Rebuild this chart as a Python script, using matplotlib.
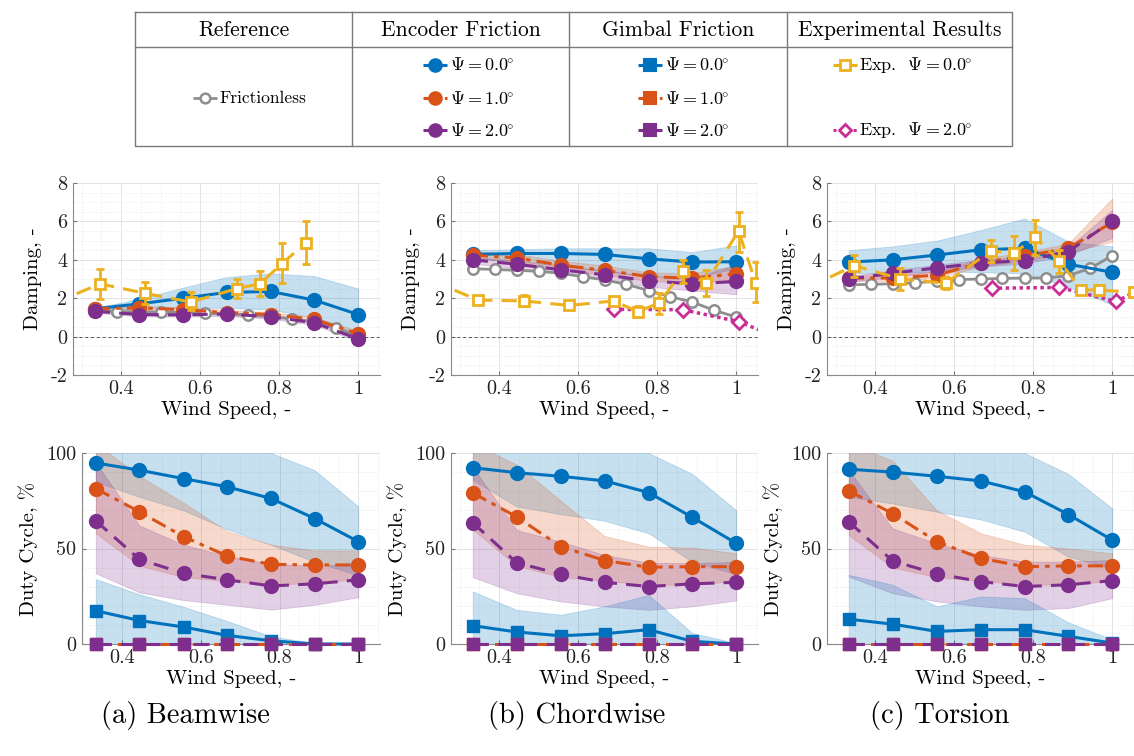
import matplotlib
matplotlib.use("Agg")
import matplotlib.pyplot as plt
from matplotlib.ticker import MultipleLocator, FixedLocator

plt.rcParams['font.family'] = ['cmr10', 'DejaVu Serif']
plt.rcParams['mathtext.fontset'] = 'cm'
plt.rcParams['axes.unicode_minus'] = False

# ---------------- colours ----------------
BLUE = '#0072BD'
ORANGE = '#D95319'
YELLOW = '#EDB120'
PURPLE = '#7E2F8E'
GRAY = '#8E8E8E'
MAGENTA = '#C72F96'

# ---------------- data ----------------
wind_sim = [0.333, 0.444, 0.556, 0.667, 0.778, 0.889, 1.0]
wind_fric = [0.333, 0.389, 0.444, 0.5, 0.556, 0.611, 0.667, 0.722, 0.778, 0.833, 0.889, 0.944, 1.0]

# --- Beamwise damping ---
beam_fric = [1.35, 1.3, 1.3, 1.28, 1.25, 1.22, 1.18, 1.12, 1.05, 0.92, 0.75, 0.45, 0.05]
beam_enc0 = [1.45, 1.7, 2.0, 2.3, 2.35, 1.9, 1.15]
beam_enc0_lo = [1.35, 1.45, 1.5, 1.5, 1.4, 1.0, 0.15]
beam_enc0_hi = [1.5, 1.95, 2.55, 3.1, 3.3, 3.15, 2.5]
beam_enc1 = [1.45, 1.5, 1.4, 1.25, 1.15, 0.9, 0.15]
beam_enc1_lo = [1.35, 1.35, 1.25, 1.12, 1.02, 0.75, 0.0]
beam_enc1_hi = [1.55, 1.62, 1.52, 1.38, 1.28, 1.02, 0.3]
beam_enc2 = [1.32, 1.15, 1.13, 1.18, 1.03, 0.72, -0.12]
beam_enc2_lo = [1.25, 1.05, 1.05, 1.08, 0.93, 0.6, -0.25]
beam_enc2_hi = [1.4, 1.25, 1.22, 1.28, 1.13, 0.85, 0.0]
beam_exp0_x = [0.23, 0.347, 0.461, 0.576, 0.693, 0.751, 0.807, 0.868]
beam_exp0 = [1.75, 2.75, 2.25, 1.8, 2.5, 2.75, 3.8, 4.9]
beam_exp0_lo = [1.5, 1.95, 1.7, 1.4, 2.0, 2.1, 2.8, 3.8]
beam_exp0_hi = [2.0, 3.5, 2.85, 2.3, 3.0, 3.4, 4.85, 6.0]

# --- Chordwise damping ---
chord_fric = [3.53, 3.5, 3.45, 3.4, 3.3, 3.12, 2.95, 2.72, 2.4, 2.08, 1.8, 1.37, 1.02]
chord_enc0 = [4.28, 4.33, 4.33, 4.28, 4.05, 3.88, 3.9]
chord_enc0_lo = [4.05, 3.95, 3.7, 3.4, 3.15, 3.05, 3.55]
chord_enc0_hi = [4.5, 4.55, 4.6, 4.6, 4.6, 4.4, 4.75]
chord_enc1 = [4.24, 4.1, 3.72, 3.45, 3.13, 3.03, 3.28]
chord_enc1_lo = [4.05, 3.9, 3.5, 3.2, 2.9, 2.8, 2.95]
chord_enc1_hi = [4.45, 4.3, 3.95, 3.7, 3.35, 3.3, 3.7]
chord_enc2 = [4.0, 3.77, 3.48, 3.22, 2.9, 2.75, 2.87]
chord_enc2_lo = [3.8, 3.55, 3.28, 2.95, 2.6, 2.4, 2.2]
chord_enc2_hi = [4.15, 3.95, 3.68, 3.45, 3.15, 3.05, 3.75]
chord_exp0_x = [0.23, 0.347, 0.463, 0.577, 0.69, 0.751, 0.804, 0.865, 0.923, 1.006, 1.049]
chord_exp0 = [2.9, 1.9, 1.86, 1.62, 1.86, 1.3, 1.74, 3.43, 2.78, 5.5, 2.8]
chord_exp0_lo = [2.7, 1.8, 1.57, 1.5, 1.7, 1.04, 1.2, 2.78, 2.09, 4.43, 1.8]
chord_exp0_hi = [3.1, 2.0, 2.17, 1.75, 2.0, 1.57, 2.26, 4.0, 3.48, 6.47, 3.9]
chord_exp2_x = [0.69, 0.865, 1.006, 1.10]
chord_exp2 = [1.42, 1.4, 0.78, 0.0]

# --- Torsion damping ---
tors_fric = [2.7, 2.72, 2.75, 2.8, 2.88, 2.97, 3.0, 3.03, 3.05, 3.05, 3.18, 3.55, 4.22]
tors_enc0 = [3.88, 4.0, 4.25, 4.52, 4.6, 3.77, 3.35]
tors_enc0_lo = [3.3, 3.3, 3.4, 3.35, 3.3, 2.6, 1.65]
tors_enc0_hi = [4.5, 4.7, 5.0, 5.55, 6.15, 4.95, 4.7]
tors_enc1 = [3.05, 3.05, 3.2, 3.85, 4.2, 4.6, 5.95]
tors_enc1_lo = [2.9, 2.9, 3.05, 3.65, 3.95, 4.35, 4.95]
tors_enc1_hi = [3.2, 3.2, 3.4, 4.05, 4.4, 4.85, 7.2]
tors_enc2 = [3.0, 3.3, 3.58, 3.83, 3.96, 4.43, 6.03]
tors_enc2_lo = [2.85, 3.1, 3.4, 3.65, 3.8, 4.25, 5.15]
tors_enc2_hi = [3.15, 3.45, 3.75, 4.0, 4.15, 4.65, 6.6]
tors_exp0_x = [0.23, 0.347, 0.464, 0.578, 0.693, 0.751, 0.805, 0.866, 0.922, 0.967, 1.054]
tors_exp0 = [2.55, 3.7, 3.0, 2.78, 4.47, 4.35, 5.17, 3.95, 2.43, 2.43, 2.3]
tors_exp0_lo = [2.4, 3.13, 2.43, 2.49, 3.91, 3.48, 4.26, 3.3, 2.3, 2.15, 2.1]
tors_exp0_hi = [2.7, 4.26, 3.57, 3.13, 5.04, 5.22, 6.09, 4.52, 2.6, 2.7, 2.5]
tors_exp2_x = [0.695, 0.866, 1.01, 1.10]
tors_exp2 = [2.52, 2.56, 1.83, 2.75]

# --- Duty cycle, beamwise ---
beam_dc_enc0 = [94.8, 91, 86.6, 82.3, 76.2, 65.7, 53.6]
beam_dc_enc0_lo = [85, 77, 70, 60, 52, 43, 36]
beam_dc_enc0_hi = [105, 105, 105, 105, 100, 91, 72]
beam_dc_enc1 = [81.4, 69.2, 56.2, 46.1, 41.7, 41.4, 41.4]
beam_dc_enc1_lo = [58, 41, 35, 33, 31, 32, 34]
beam_dc_enc1_hi = [105, 88, 74, 59, 52, 49, 49]
beam_dc_enc2 = [64.5, 44.3, 37, 33.6, 30.4, 31.5, 33.6]
beam_dc_enc2_lo = [37, 27, 23, 20.5, 18, 20.5, 24.5]
beam_dc_enc2_hi = [95, 62, 52, 46, 42, 41, 42]
beam_dc_gim0 = [17.4, 12.3, 8.9, 4.5, 1.7, 0, 0]
beam_dc_gim0_hi = [34, 26, 19.5, 12, 4, 0.5, 0]
beam_dc_gim1 = [0, 0, 0, 0, 0, 0, 0]
beam_dc_gim2 = [0, 0, 0, 0, 0, 0, 0]

# --- Duty cycle, chordwise ---
chord_dc_enc0 = [92.3, 89.7, 87.8, 85.4, 79.3, 66.3, 52.7]
chord_dc_enc0_lo = [86, 72, 68, 64.5, 58, 43, 36.5]
chord_dc_enc0_hi = [105, 105, 105, 105, 100, 89, 70]
chord_dc_enc1 = [79.1, 66.6, 51, 43.7, 40.2, 40.5, 40.5]
chord_dc_enc1_lo = [60, 41, 35, 33, 31, 31, 33]
chord_dc_enc1_hi = [105, 94, 75, 56.5, 51, 50.5, 47.5]
chord_dc_enc2 = [63.5, 42.6, 36.5, 32.3, 30.1, 31.5, 32.3]
chord_dc_enc2_lo = [35, 26.6, 22.3, 19.7, 17.9, 19.7, 22.8]
chord_dc_enc2_hi = [92.7, 59.7, 53.6, 46.6, 42.6, 42.3, 43]
chord_dc_gim0 = [9.6, 6.3, 4.3, 5.4, 7.5, 1.4, 0]
chord_dc_gim0_hi = [27.5, 17.9, 15.3, 19.7, 25.7, 5.7, 0.5]
chord_dc_gim1 = [0, 0, 0, 0, 0, 0, 0]
chord_dc_gim2 = [0, 0, 0, 0, 0, 0, 0]

# --- Duty cycle, torsion ---
tors_dc_enc0 = [91.5, 90, 87.8, 85.4, 79.7, 67.8, 54.4]
tors_dc_enc0_lo = [77, 73.6, 69.2, 65.2, 58.8, 45.7, 39.6]
tors_dc_enc0_hi = [105, 105, 105, 105, 100, 89, 71]
tors_dc_enc1 = [80.2, 68.3, 53.6, 44.9, 40.5, 40.9, 40.9]
tors_dc_enc1_lo = [57, 40, 35, 33, 31, 31, 33]
tors_dc_enc1_hi = [105, 96, 70, 58, 52, 50, 47.5]
tors_dc_enc2 = [64, 43.5, 36.7, 32.7, 30.1, 31, 33.2]
tors_dc_enc2_lo = [35.3, 26.6, 22.3, 19.7, 17.9, 18.8, 24]
tors_dc_enc2_hi = [91, 60.5, 52.7, 46.6, 43.1, 43.1, 44]
tors_dc_gim0 = [13, 10.4, 6.6, 7.5, 7.5, 4, 0.5]
tors_dc_gim0_hi = [36.2, 31, 19.7, 24.9, 24, 11.3, 2.3]
tors_dc_gim1 = [0, 0, 0, 0, 0, 0, 0]
tors_dc_gim2 = [0, 0, 0, 0, 0, 0, 0]

xtick_vals = [0.4, 0.6, 0.8, 1.0]
xtick_labels = ['0.4', '0.6', '0.8', '1']
panel_titles = ['(a) Beamwise', '(b) Chordwise', '(c) Torsion']

# ---------------- figure ----------------
W, H = 1134, 756
fig = plt.figure(figsize=(W / 100, H / 100), dpi=100)


def px_axes(left, top, right, bottom):
    return fig.add_axes([left / W, 1 - bottom / H, (right - left) / W, (bottom - top) / H])


def style_axes(ax, xlim, ylim, yticks, yminor, ylabel):
    ax.set_xlim(*xlim)
    ax.set_ylim(*ylim)
    ax.xaxis.set_major_locator(FixedLocator(xtick_vals))
    ax.set_xticklabels(xtick_labels)
    ax.xaxis.set_minor_locator(MultipleLocator(0.05))
    ax.set_yticks(yticks)
    ax.set_yticklabels([f'{v:g}' for v in yticks])
    ax.yaxis.set_minor_locator(MultipleLocator(yminor))
    ax.grid(which='major', color='#e3e3e3', lw=0.7)
    ax.grid(which='minor', color='#ececec', lw=0.6, ls=(0, (1.5, 1.5)))
    ax.set_axisbelow(True)
    for s in ['top', 'right']:
        ax.spines[s].set_visible(False)
    for s in ['left', 'bottom']:
        ax.spines[s].set_color('#8a8a8a')
        ax.spines[s].set_linewidth(0.8)
    ax.tick_params(which='major', direction='in', length=3, color='#777777',
                   labelsize=14.5, labelcolor='#222222', pad=4)
    ax.tick_params(which='minor', length=0)
    ax.set_xlabel('Wind Speed, -', fontsize=15, labelpad=2)
    ax.set_ylabel(ylabel, fontsize=15, labelpad=6)


def band(ax, x, lo, hi, color):
    ax.fill_between(x, lo, hi, facecolor=color, alpha=0.22, edgecolor=color,
                    linewidth=0.6, zorder=2)


def sim_line(ax, x, y, color, ls, marker, ms):
    ax.plot(x, y, color=color, ls=ls, lw=2.2, marker=marker, ms=ms,
            mfc=color, mec=color, zorder=4)


def fric_line(ax, x, y):
    ax.plot(x, y, color=GRAY, ls='-', lw=2.0, marker='o', ms=7.5, mfc='white',
            mec=GRAY, mew=1.8, zorder=3)


def exp0_line(ax, x, y, lo, hi):
    yerr = [[yi - l for yi, l in zip(y, lo)], [h - yi for yi, h in zip(y, hi)]]
    ax.errorbar(x, y, yerr=yerr, color=YELLOW, ls=(0, (5, 3)), lw=2.2,
                marker='s', ms=7, mfc='white', mec=YELLOW, mew=2,
                elinewidth=2, capsize=3, capthick=2, zorder=6)


def exp2_line(ax, x, y):
    ax.plot(x, y, color=MAGENTA, ls=(0, (1, 1)), lw=2.5, marker='D', ms=7,
            mfc='white', mec=MAGENTA, mew=2, zorder=5)


XLIM = (0.278, 1.055)
col_left = [73, 451, 827]

# ---- top row (damping) ----
damping_sets = [
    (beam_fric, beam_enc0, beam_enc0_lo, beam_enc0_hi, beam_enc1, beam_enc1_lo, beam_enc1_hi,
     beam_enc2, beam_enc2_lo, beam_enc2_hi, beam_exp0_x, beam_exp0, beam_exp0_lo, beam_exp0_hi,
     None, None),
    (chord_fric, chord_enc0, chord_enc0_lo, chord_enc0_hi, chord_enc1, chord_enc1_lo, chord_enc1_hi,
     chord_enc2, chord_enc2_lo, chord_enc2_hi, chord_exp0_x, chord_exp0, chord_exp0_lo, chord_exp0_hi,
     chord_exp2_x, chord_exp2),
    (tors_fric, tors_enc0, tors_enc0_lo, tors_enc0_hi, tors_enc1, tors_enc1_lo, tors_enc1_hi,
     tors_enc2, tors_enc2_lo, tors_enc2_hi, tors_exp0_x, tors_exp0, tors_exp0_lo, tors_exp0_hi,
     tors_exp2_x, tors_exp2),
]

for i, d in enumerate(damping_sets):
    (fr, e0, e0l, e0h, e1, e1l, e1h, e2, e2l, e2h, xx0, x0, x0l, x0h, xx2, x2) = d
    L = col_left[i]
    ax = px_axes(L, 183, L + 307, 375)
    style_axes(ax, XLIM, (-2, 8), [-2, 0, 2, 4, 6, 8], 0.5, 'Damping, -')
    ax.axhline(0, color='#555555', lw=0.7, ls=(0, (3, 3)), zorder=1)
    band(ax, wind_sim, e0l, e0h, BLUE)
    band(ax, wind_sim, e1l, e1h, ORANGE)
    band(ax, wind_sim, e2l, e2h, PURPLE)
    fric_line(ax, wind_fric, fr)
    sim_line(ax, wind_sim, e0, BLUE, '-', 'o', 10)
    sim_line(ax, wind_sim, e1, ORANGE, (0, (5, 2, 1.5, 2)), 'o', 10)
    sim_line(ax, wind_sim, e2, PURPLE, (0, (5, 3)), 'o', 10)
    if xx2 is not None:
        exp2_line(ax, xx2, x2)
    exp0_line(ax, xx0, x0, x0l, x0h)

# ---- bottom row (duty cycle) ----
duty_sets = [
    (beam_dc_enc0, beam_dc_enc0_lo, beam_dc_enc0_hi, beam_dc_enc1, beam_dc_enc1_lo, beam_dc_enc1_hi,
     beam_dc_enc2, beam_dc_enc2_lo, beam_dc_enc2_hi, beam_dc_gim0, beam_dc_gim0_hi, beam_dc_gim1, beam_dc_gim2),
    (chord_dc_enc0, chord_dc_enc0_lo, chord_dc_enc0_hi, chord_dc_enc1, chord_dc_enc1_lo, chord_dc_enc1_hi,
     chord_dc_enc2, chord_dc_enc2_lo, chord_dc_enc2_hi, chord_dc_gim0, chord_dc_gim0_hi, chord_dc_gim1, chord_dc_gim2),
    (tors_dc_enc0, tors_dc_enc0_lo, tors_dc_enc0_hi, tors_dc_enc1, tors_dc_enc1_lo, tors_dc_enc1_hi,
     tors_dc_enc2, tors_dc_enc2_lo, tors_dc_enc2_hi, tors_dc_gim0, tors_dc_gim0_hi, tors_dc_gim1, tors_dc_gim2),
]
bottom_left = [82, 451, 827]
bottom_xlim = [(0.298, 1.055), XLIM, XLIM]

for i, d in enumerate(duty_sets):
    (e0, e0l, e0h, e1, e1l, e1h, e2, e2l, e2h, g0, g0h, g1, g2) = d
    L = bottom_left[i]
    ax = px_axes(L, 453, col_left[i] + 307, 644)
    style_axes(ax, bottom_xlim[i], (0, 100), [0, 50, 100], 10, 'Duty Cycle, %')
    band(ax, wind_sim, e0l, e0h, BLUE)
    band(ax, wind_sim, e1l, e1h, ORANGE)
    band(ax, wind_sim, e2l, e2h, PURPLE)
    band(ax, wind_sim, [0] * len(wind_sim), g0h, BLUE)
    sim_line(ax, wind_sim, e0, BLUE, '-', 'o', 10)
    sim_line(ax, wind_sim, e1, ORANGE, (0, (5, 2, 1.5, 2)), 'o', 10)
    sim_line(ax, wind_sim, e2, PURPLE, (0, (5, 3)), 'o', 10)
    sim_line(ax, wind_sim, g0, BLUE, '-', 's', 8)
    sim_line(ax, wind_sim, g1, ORANGE, (0, (5, 2, 1.5, 2)), 's', 8)
    sim_line(ax, wind_sim, g2, PURPLE, (0, (5, 3)), 's', 8)
    for ln in ax.lines:
        ln.set_clip_on(False)

# ---- panel captions ----
caption_x = [185, 577, 940]
for cx, t in zip(caption_x, panel_titles):
    fig.text(cx / W, 1 - 716 / H, t, ha='center', va='center', fontsize=20.5)

# ---- legend table ----
lg = fig.add_axes([0, 0, 1, 1], zorder=-1)
lg.set_xlim(0, W)
lg.set_ylim(H, 0)
lg.axis('off')
tc = '#7a7a7a'
x0t, x1t, y0t, y1t = 135, 1012, 12, 146
lg.plot([x0t, x1t, x1t, x0t, x0t], [y0t, y0t, y1t, y1t, y0t], color=tc, lw=1.0)
lg.plot([x0t, x1t], [47, 47], color=tc, lw=1.0)
for xv in (352, 569, 787):
    lg.plot([xv, xv], [y0t, y1t], color=tc, lw=1.0)
headers = ['Reference', 'Encoder Friction', 'Gimbal Friction', 'Experimental Results']
hx = [243.5, 460.5, 678, 899.5]
for x, t in zip(hx, headers):
    lg.text(x, 30, t, ha='center', va='center', fontsize=15.5)


def handle(xc, y, color, ls, marker, ms, mfc, lw=2.2, mew=1.5):
    lg.plot([xc - 12, xc + 12], [y, y], color=color, ls=ls, lw=lw, solid_capstyle='butt')
    lg.plot([xc], [y], color=color, marker=marker, ms=ms, mfc=mfc, mec=color, mew=mew)


psi_labels = [r'$\Psi = 0.0^{\!\!\circ}$', r'$\Psi = 1.0^{\!\!\circ}$', r'$\Psi = 2.0^{\!\!\circ}$']
row_y = [65, 98, 130]
styles = [(BLUE, '-'), (ORANGE, (0, (3, 1.5, 1, 1.5))), (PURPLE, (0, (3, 2)))]
handle(205, 98, GRAY, '-', 'o', 7, 'white', lw=2.0, mew=1.8)
lg.text(219, 98, 'Frictionless', ha='left', va='center', fontsize=12.5)
for (c, ls), y, t in zip(styles, row_y, psi_labels):
    handle(435, y, c, ls, 'o', 9, c)
    lg.text(450, y, t, ha='left', va='center', fontsize=13)
    handle(650, y, c, ls, 's', 8, c)
    lg.text(665, y, t, ha='left', va='center', fontsize=13)
handle(845, 65, YELLOW, (0, (3, 2)), 's', 6.5, 'white', mew=2)
lg.text(859, 65, r'Exp.  $\Psi = 0.0^{\!\!\circ}$', ha='left', va='center', fontsize=13)
handle(845, 130, MAGENTA, (0, (1, 1.2)), 'D', 6.5, 'white', mew=2)
lg.text(859, 130, r'Exp.  $\Psi = 2.0^{\!\!\circ}$', ha='left', va='center', fontsize=13)

fig.savefig('out.png', dpi=100)
